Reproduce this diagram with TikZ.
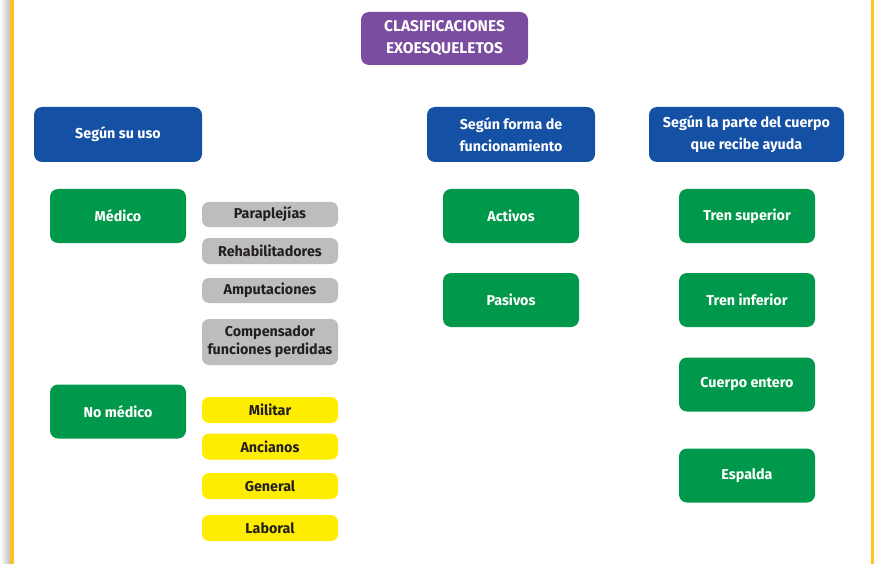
\documentclass[tikz,border=0pt]{standalone}
\usepackage{fontspec}
\setmainfont{Fira Sans}
\definecolor{cpurple}{HTML}{7B4DA0}
\definecolor{cblue}{HTML}{1450A3}
\definecolor{cgreen}{HTML}{00984A}
\definecolor{cgrey}{HTML}{BDBDBF}
\definecolor{cyellow}{HTML}{FFED00}
\definecolor{corange}{HTML}{FFC222}
\definecolor{ctext}{HTML}{231F20}
\tikzset{
  base/.style={rounded corners=8pt, align=center, inner sep=0pt, font=\fontsize{14.3}{22}\selectfont\bfseries},
  purplebox/.style={base, fill=cpurple, text=white, minimum width=167pt, minimum height=53pt, font=\fontsize{15.5}{22}\selectfont\bfseries},
  bluebox/.style={base, fill=cblue, text=white, minimum height=55pt},
  greenbox/.style={base, fill=cgreen, text=white, minimum width=136pt, minimum height=54pt},
  greybox/.style={base, fill=cgrey, text=ctext, minimum width=136pt, rounded corners=7pt},
  yellowbox/.style={base, fill=cyellow, text=ctext, minimum width=136pt, minimum height=26pt, rounded corners=7pt},
}
\begin{document}
\begin{tikzpicture}[x=1pt,y=-1pt]
\useasboundingbox (0,0) rectangle (875,564);
\fill[white] (0,0) rectangle (875,564);
\shade[left color=white, right color=black!25] (0,0) rectangle (10,564);
\fill[corange] (10,0) rectangle (13.5,564);
\fill[corange] (870.5,0) rectangle (873.5,564);

\node[purplebox] (root) at (444.5,38.5) {CLASIFICACIONES\\EXOESQUELETOS};

\node[bluebox, minimum width=168pt] (uso) at (118,134.5) {Según su uso};
\node[bluebox, minimum width=168pt] (forma) at (511,134.5) {Según forma de\\funcionamiento};
\node[bluebox, minimum width=195pt] (parte) at (746.5,134.5) {Según la parte del cuerpo\\que recibe ayuda};

\node[greenbox] (medico) at (118,216) {Médico};
\node[greenbox] (nomedico) at (118,411.5) {No médico};
\node[greenbox] (activos) at (511,216) {Activos};
\node[greenbox] (pasivos) at (511,300) {Pasivos};
\node[greenbox] (superior) at (747,216) {Tren superior};
\node[greenbox] (inferior) at (747,300) {Tren inferior};
\node[greenbox] (entero) at (747,384.5) {Cuerpo entero};
\node[greenbox] (espalda) at (747,475.5) {Espalda};

\node[greybox, minimum height=25pt] (para) at (270,214.5) {Paraplejías};
\node[greybox, minimum height=26pt] (rehab) at (270,251) {Rehabilitadores};
\node[greybox, minimum height=25pt] (amput) at (270,290.5) {Amputaciones};
\node[greybox, minimum height=46pt, font=\fontsize{14.3}{18}\selectfont\bfseries] (comp) at (270,342) {Compensador\\funciones perdidas};

\node[yellowbox] (militar) at (270,410) {Militar};
\node[yellowbox] (ancianos) at (270,446.5) {Ancianos};
\node[yellowbox] (general) at (270,486) {General};
\node[yellowbox] (laboral) at (270,528) {Laboral};
\end{tikzpicture}
\end{document}
